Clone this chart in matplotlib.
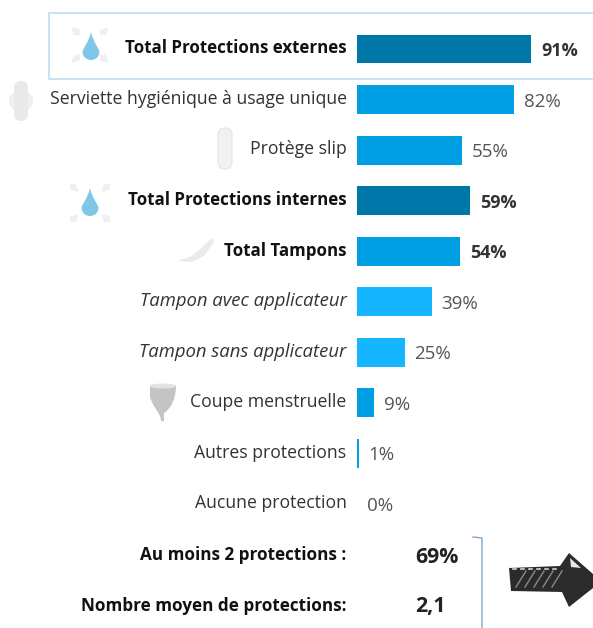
import matplotlib
matplotlib.use("Agg")
import matplotlib.pyplot as plt
from matplotlib.patches import Rectangle, PathPatch, Polygon, Ellipse, FancyBboxPatch
from matplotlib.path import Path

categories = ["Total Protections externes", "Serviette hygiénique à usage unique", "Protège slip",
              "Total Protections internes", "Total Tampons", "Tampon avec applicateur",
              "Tampon sans applicateur", "Coupe menstruelle", "Autres protections", "Aucune protection"]
values = [91, 82, 55, 59, 54, 39, 25, 9, 1, 0]
colors = ["#0077A9", "#009FE3", "#009FE3", "#0077A9", "#009FE3", "#15B5FF", "#15B5FF", "#009FE3", "#009FE3", "#009FE3"]
styles = ["bold", "normal", "normal", "bold", "bold", "italic", "italic", "normal", "normal", "normal"]
summary_labels = ["Au moins 2 protections :", "Nombre moyen de protections:"]
summary_values = ["69%", "2,1"]

plt.rcParams["font.family"] = ["Open Sans", "DejaVu Sans"]
W, H = 593, 628
fig = plt.figure(figsize=(W / 100, H / 100), dpi=100)

# overlay in pixel coords for the box, icons and arrow
bg = fig.add_axes([0, 0, 1, 1])
bg.set_xlim(0, W)
bg.set_ylim(H, 0)
bg.axis("off")


def drop(a, cx, cy, h):
    w = h * 0.3
    p = Path([(cx, cy - h / 2), (cx + w * 0.3, cy - h * 0.1), (cx + w, cy + h * 0.1), (cx + w, cy + h * 0.2),
              (cx + w, cy + h * 0.4), (cx + w * 0.5, cy + h / 2), (cx, cy + h / 2),
              (cx - w * 0.5, cy + h / 2), (cx - w, cy + h * 0.4), (cx - w, cy + h * 0.2),
              (cx - w, cy + h * 0.1), (cx - w * 0.3, cy - h * 0.1), (cx, cy - h / 2)],
             [Path.MOVETO] + [Path.CURVE4] * 12)
    a.add_patch(PathPatch(p, fc="#7FC6E8", ec="none"))


def arrows(a, cx, cy, outward):
    for sx, sy in [(-1, -1), (1, -1), (-1, 1), (1, 1)]:
        x0, y0 = cx + sx * 9, cy + sy * 9
        x1, y1 = cx + sx * 21, cy + sy * 20
        if not outward:
            x0, y0, x1, y1 = x1, y1, x0, y0
        a.annotate("", xy=(x1, y1), xytext=(x0, y0),
                   arrowprops=dict(arrowstyle="-|>", color="#EDEFF1", lw=2, mutation_scale=9))


bg.add_patch(Rectangle((48.5, 12.5), 545, 66, fc="none", ec="#B5DCEB", lw=1.1))
arrows(bg, 90, 45, True)
drop(bg, 91, 46, 28)
arrows(bg, 90, 203, False)
drop(bg, 90, 202, 28)
# towels
bg.add_patch(Ellipse((21, 101), 24, 22, fc="#EFEFEF", ec="none"))
bg.add_patch(FancyBboxPatch((14, 81), 14, 40, boxstyle="round,pad=0,rounding_size=7", fc="#E9E9E9", ec="none"))
bg.add_patch(FancyBboxPatch((218, 128), 14, 41, boxstyle="round,pad=0,rounding_size=7", fc="#F1F1F1", ec="#E4E4E4", lw=0.8))
# tampon
bg.add_patch(Polygon([(178, 261), (192, 256), (212, 238), (214, 242), (204, 256), (192, 262)], fc="#EAEAEA", ec="none"))
# cup
cup = Path([(150, 385), (176, 385), (176, 397), (172, 408), (164, 413), (164, 421), (161, 421), (161, 413),
            (153, 408), (150, 397), (150, 385)],
           [Path.MOVETO, Path.LINETO, Path.CURVE4, Path.CURVE4, Path.CURVE4, Path.LINETO, Path.LINETO,
            Path.CURVE4, Path.CURVE4, Path.CURVE4, Path.CLOSEPOLY])
bg.add_patch(PathPatch(cup, fc="#C4C4C4", ec="none"))
bg.add_patch(Ellipse((163, 386), 26, 5, fc="#E3E3E3", ec="none"))
# summary bracket
bg.plot([473, 482, 482], [537, 538, 628], color="#7FA8CC", lw=1)
# hand drawn arrow
bg.add_patch(Polygon([(509, 568), (560, 566), (569, 553), (593, 574), (593, 588), (569, 607), (562, 592), (511, 591)],
                     fc="#2B2B2B", ec="none"))
for i in range(5):
    bg.plot([516 + i * 9, 526 + i * 9], [587, 571], color="#8A8A8A", lw=1)
for i in range(6):
    bg.plot([513 + i * 8, 516 + i * 8], [568.5, 568.5], color="#D0D0D0", lw=1.2)
bg.add_patch(Polygon([(570, 558), (581, 568), (571, 567)], fc="#E8E8E8", ec="none"))

# bars: one percent is 1.915 px, first bar centred at y=49, 50.55 px apart
ax = fig.add_axes([357 / W, 0, (W - 357) / W, 1])
ax.patch.set_alpha(0)
ax.set_xlim(0, (W - 357) / 1.915)
ax.set_ylim((H - 49) / 50.55, -49 / 50.55)
ax.axis("off")
pos = list(range(len(values)))
ax.barh(pos, values, height=0.57, color=colors)

label_sizes = {"bold": 12.2, "normal": 12.7, "italic": 13.3}
for i in pos:
    weight = "bold" if styles[i] == "bold" else "normal"
    slant = "italic" if styles[i] == "italic" else "normal"
    ax.annotate(categories[i], (0, i), xytext=(-7.5, 0.5), textcoords="offset points", ha="right", va="center",
                fontsize=label_sizes[styles[i]], fontweight=weight, fontstyle=slant,
                color="#111111" if weight == "bold" else "#333333")
    ax.annotate(f"{values[i]}%", (values[i], i), xytext=(7, -1.5), textcoords="offset points", ha="left", va="center",
                fontsize=13 if weight == "bold" else 13.5, fontweight=weight,
                color="#333333" if weight == "bold" else "#555555")

for i, (lab, val) in enumerate(zip(summary_labels, summary_values)):
    ax.annotate(lab, (0, 10 + i), xytext=(-7.5, -i), textcoords="offset points", ha="right", va="center",
                fontsize=12.3, fontweight="bold", color="#111111")
    ax.annotate(val, (0, 10 + i), xytext=(42, -2 + i), textcoords="offset points", ha="left", va="center",
                fontsize=15.3, fontweight="bold", color="#222222")

fig.savefig("out.png", dpi=100)
